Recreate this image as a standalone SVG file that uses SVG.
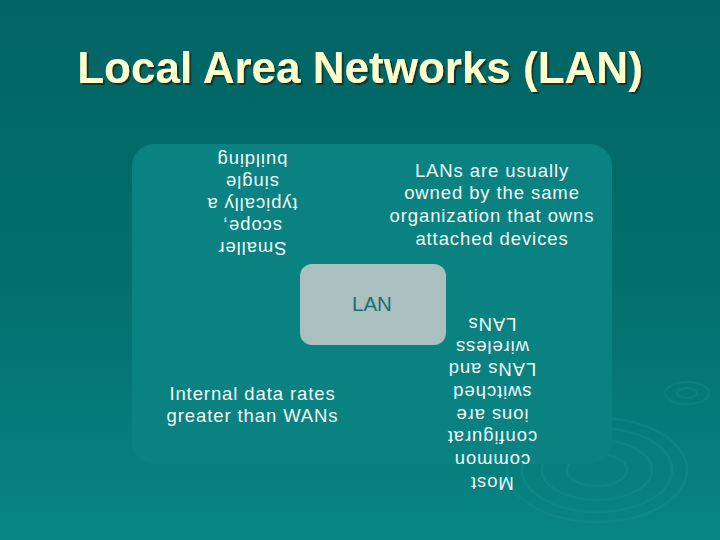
<svg xmlns="http://www.w3.org/2000/svg" width="720" height="540" viewBox="0 0 720 540">
<defs>
<linearGradient id="bg" x1="0" y1="0" x2="0" y2="1">
<stop offset="0" stop-color="#016564"/>
<stop offset="0.5" stop-color="#026E6D"/>
<stop offset="1" stop-color="#078685"/>
</linearGradient>
<filter id="sh" x="-5%" y="-20%" width="110%" height="140%">
<feDropShadow dx="2" dy="2" stdDeviation="0.6" flood-color="#0A3333" flood-opacity="0.9"/>
</filter>
</defs>
<style>
.t{font-family:"Liberation Sans",Arial,sans-serif;font-size:18.5px;fill:#F2F8F8;text-anchor:middle;letter-spacing:0.9px}
.title{font-family:"Liberation Sans",Arial,sans-serif;font-size:44px;font-weight:bold;text-anchor:middle;fill:#FFFFCC}
.rip{fill:none;stroke:#2A9C9A;stroke-width:2.5;opacity:0.22}
</style>
<rect width="720" height="540" fill="url(#bg)"/>
<g id="ripples">
<ellipse class="rip" cx="597" cy="470" rx="30" ry="16"/>
<ellipse class="rip" cx="597" cy="470" rx="55" ry="30"/>
<ellipse class="rip" cx="597" cy="470" rx="75" ry="42"/>
<ellipse class="rip" cx="597" cy="470" rx="90" ry="52"/>
<ellipse class="rip" cx="687" cy="393" rx="10" ry="5"/>
<ellipse class="rip" cx="687" cy="393" rx="22" ry="11"/>
</g>
<g id="title">
<text class="title" x="360" y="83" filter="url(#sh)">Local Area Networks (LAN)</text>
</g>
<g id="panel">
<rect x="132" y="144" width="480" height="320" rx="22" fill="#0A8282"/>
</g>
<g id="connectors"></g>
<g id="lan">
<rect x="300" y="264" width="146" height="81" rx="12" fill="#A9BFC0"/>
<text x="372" y="311" font-family="'Liberation Sans',Arial,sans-serif" font-size="20.5" fill="#1B6E6E" text-anchor="middle">LAN</text>
</g>
<g id="scope">
<text class="t" x="252" y="242" transform="rotate(180 252 242)">Smaller</text>
<text class="t" x="252" y="220" transform="rotate(180 252 220)">scope,</text>
<text class="t" x="252" y="198" transform="rotate(180 252 198)">typically a</text>
<text class="t" x="252" y="176" transform="rotate(180 252 176)">single</text>
<text class="t" x="252" y="154" transform="rotate(180 252 154)">building</text>
</g>
<g id="owned">
<text class="t" x="492" y="176.5">LANs are usually</text>
<text class="t" x="492" y="199.2">owned by the same</text>
<text class="t" x="492" y="221.9">organization that owns</text>
<text class="t" x="492" y="244.6">attached devices</text>
</g>
<g id="rates">
<text class="t" x="252.5" y="400">Internal data rates</text>
<text class="t" x="252.5" y="422">greater than WANs</text>
</g>
<g id="config">
<text class="t" x="492" y="476.7" transform="rotate(180 492 476.7)">Most</text>
<text class="t" x="492" y="454" transform="rotate(180 492 454)">common</text>
<text class="t" x="492" y="431.3" transform="rotate(180 492 431.3)">configurat</text>
<text class="t" x="492" y="408.6" transform="rotate(180 492 408.6)">ions are</text>
<text class="t" x="492" y="385.9" transform="rotate(180 492 385.9)">switched</text>
<text class="t" x="492" y="363.2" transform="rotate(180 492 363.2)">LANs and</text>
<text class="t" x="492" y="340.5" transform="rotate(180 492 340.5)">wireless</text>
<text class="t" x="492" y="317.8" transform="rotate(180 492 317.8)">LANs</text>
</g>
</svg>
